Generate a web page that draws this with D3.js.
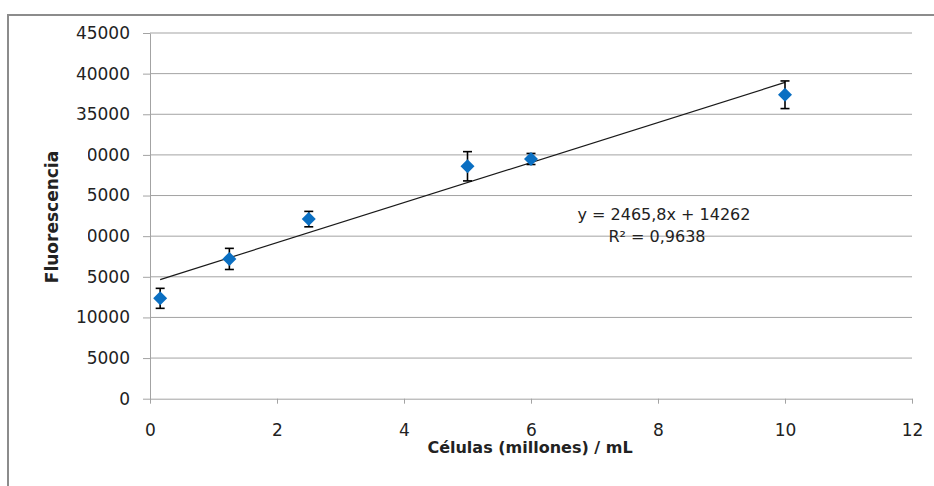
<!DOCTYPE html>
<html>
<head>
<meta charset="utf-8">
<script src="https://cdn.jsdelivr.net/npm/d3@7"></script>
<style>
  body { margin: 0; background: #fff; }
  svg text { font-family: "DejaVu Sans", sans-serif; fill: #222; }
</style>
</head>
<body>
<script>
// cells (millions/mL) vs fluorescence, with error bars
var cells = [0.16, 1.25, 2.5, 5, 6, 10];
var fluor = [12350, 17200, 22100, 28600, 29500, 37400];
var errs = [1230, 1300, 950, 1800, 680, 1700];
var xTicks = [0, 2, 4, 6, 8, 10, 12];
var yTicks = [0, 5000, 10000, 15000, 20000, 25000, 30000, 35000, 40000, 45000];
// trendline from the chart's own label
var slope = 2465.8, intercept = 14262;
var eqLines = ['y = 2465,8x + 14262', 'R\u00b2 = 0,9638'];

var width = 934, height = 486;
var svg = d3.select('body').append('svg')
    .attr('width', width)
    .attr('height', height);

// chart frame
svg.append('rect')
    .attr('x', 8).attr('y', 15)
    .attr('width', 940).attr('height', 490)
    .attr('fill', 'none')
    .attr('stroke', '#8c8c8c')
    .attr('stroke-width', 2);

var x = d3.scaleLinear().domain([0, 12]).range([150, 912]);
var y = d3.scaleLinear().domain([0, 45000]).range([398.7, 33]);

var gridColor = '#a3a3a3';

// horizontal gridlines
svg.append('g').selectAll('line')
    .data(yTicks.filter(d => d > 0))
    .enter().append('line')
    .attr('x1', x(0)).attr('x2', x(12))
    .attr('y1', d => y(d)).attr('y2', d => y(d))
    .attr('stroke', gridColor)
    .attr('stroke-width', 1);

var yAxis = svg.append('g')
    .attr('transform', 'translate(' + x(0) + ',0)')
    .call(d3.axisLeft(y).tickValues(yTicks).tickFormat(d3.format('d'))
        .tickSize(7).tickPadding(13).tickSizeOuter(0));
var xAxis = svg.append('g')
    .attr('transform', 'translate(0,' + y(0) + ')')
    .call(d3.axisBottom(x).tickValues(xTicks).tickFormat(d3.format('d'))
        .tickSize(5).tickPadding(20).tickSizeOuter(0));

[xAxis, yAxis].forEach(function(g){
    g.select('.domain').attr('stroke', gridColor);
    g.selectAll('.tick line').attr('stroke', gridColor);
    g.selectAll('.tick text')
        .style('font-family', '"DejaVu Sans", sans-serif')
        .style('font-size', '17px')
        .attr('fill', '#222');
});

// y title, with its white box that hides the tick digits behind it
var yTitle = svg.append('g').attr('transform', 'translate(58,217) rotate(-90)');
var yBox = yTitle.append('rect').attr('fill', '#fff');
var yText = yTitle.append('text')
    .attr('text-anchor', 'middle')
    .style('font-size', '17px')
    .style('font-weight', 'bold')
    .attr('fill', '#000')
    .text('Fluorescencia');
var tw = yText.node().getComputedTextLength();
yBox.attr('x', -tw / 2 - 3).attr('width', tw + 6)
    .attr('y', -22).attr('height', 52);

// x title
svg.append('text')
    .attr('x', 530).attr('y', 453)
    .attr('text-anchor', 'middle')
    .style('font-size', '16px')
    .style('font-weight', 'bold')
    .attr('fill', '#000')
    .text('Células (millones) / mL');

// trendline
var x0 = d3.min(cells), x1 = d3.max(cells);
svg.append('line')
    .attr('x1', x(x0)).attr('y1', y(slope * x0 + intercept))
    .attr('x2', x(x1)).attr('y2', y(slope * x1 + intercept))
    .attr('stroke', '#1a1a1a')
    .attr('stroke-width', 1.2);

var pts = cells.map((c, i) => ({x: c, y: fluor[i], e: errs[i]}));

// error bars
var eb = svg.append('g').attr('stroke', '#000').attr('stroke-width', 1.6);
pts.forEach(function(d){
    eb.append('line')
        .attr('x1', x(d.x)).attr('x2', x(d.x))
        .attr('y1', y(d.y - d.e)).attr('y2', y(d.y + d.e));
    [d.y - d.e, d.y + d.e].forEach(function(v){
        eb.append('line')
            .attr('x1', x(d.x) - 4.5).attr('x2', x(d.x) + 4.5)
            .attr('y1', y(v)).attr('y2', y(v));
    });
});

// diamond markers
svg.append('g').selectAll('path')
    .data(pts)
    .enter().append('path')
    .attr('d', d3.symbol(d3.symbolSquare, 98))
    .attr('transform', d => 'translate(' + x(d.x) + ',' + y(d.y) + ') rotate(45)')
    .attr('fill', '#0a6fc2');

// equation label
svg.append('text')
    .attr('x', 664).attr('y', 220)
    .attr('text-anchor', 'middle')
    .style('font-size', '16px')
    .text(eqLines[0]);
svg.append('text')
    .attr('x', 657).attr('y', 242)
    .attr('text-anchor', 'middle')
    .style('font-size', '16px')
    .text(eqLines[1]);
</script>
</body>
</html>
